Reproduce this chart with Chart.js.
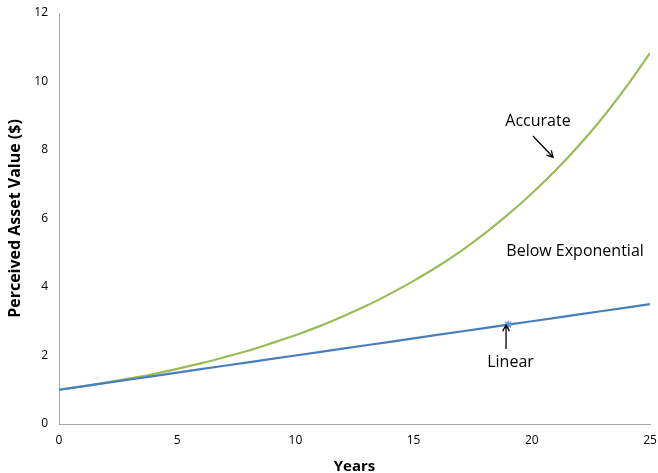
<!DOCTYPE html>
<html>
<head>
<meta charset="utf-8">
<script src="https://cdn.jsdelivr.net/npm/chart.js@4.4.1/dist/chart.umd.min.js"></script>
<style>
  html, body { margin: 0; padding: 0; background: #fff; }
  #wrap { width: 658px; height: 473px; }
</style>
</head>
<body>
<div id="wrap"><canvas id="grafico" width="658" height="473"></canvas></div>
<script>
// anos (eixo x)
const years = [0, 1, 2, 3, 4, 5, 6, 7, 8, 9, 10, 11, 12, 13, 14, 15, 16, 17, 18, 19, 20, 21, 22, 23, 24, 25];
// curva verde (accurate)
const accurate = [1.00, 1.10, 1.21, 1.33, 1.46, 1.61, 1.77, 1.95, 2.14, 2.36, 2.59, 2.85, 3.14, 3.45, 3.80, 4.18, 4.59, 5.05, 5.56, 6.12, 6.73, 7.40, 8.14, 8.95, 9.85, 10.83];
// reta azul (linear)
const linear = [1.0, 1.1, 1.2, 1.3, 1.4, 1.5, 1.6, 1.7, 1.8, 1.9, 2.0, 2.1, 2.2, 2.3, 2.4, 2.5, 2.6, 2.7, 2.8, 2.9, 3.0, 3.1, 3.2, 3.3, 3.4, 3.5];
const markedYear = 19;

const xTicks = [0, 5, 10, 15, 20, 25];
const yTicks = [0, 2, 4, 6, 8, 10, 12];

// textos e setas em coordenadas de dados
const labels = [
    { text: 'Accurate', x: 20.26, y: 8.82 },
    { text: 'Below Exponential', x: 21.83, y: 5.05 },
    { text: 'Linear', x: 19.1, y: 1.79 }
];
const arrows = [
    { x1: 20.05, y1: 8.41, x2: 20.9, y2: 7.79 },
    { x1: 18.91, y1: 2.19, x2: 18.91, y2: 2.89 }
];

const FONT = '"Open Sans", Lato, sans-serif';

const annotationsPlugin = {
    id: 'anotacoes',
    afterDatasetsDraw(chart) {
        const c = chart.ctx;
        const xs = chart.scales.x, ys = chart.scales.y;
        c.save();
        c.fillStyle = '#000';
        c.font = '16px ' + FONT;
        c.textAlign = 'center';
        c.textBaseline = 'middle';
        labels.forEach(l => c.fillText(l.text, xs.getPixelForValue(l.x), ys.getPixelForValue(l.y)));
        c.strokeStyle = '#000';
        arrows.forEach(a => {
            const x1 = xs.getPixelForValue(a.x1), y1 = ys.getPixelForValue(a.y1);
            const x2 = xs.getPixelForValue(a.x2), y2 = ys.getPixelForValue(a.y2);
            const ang = Math.atan2(y2 - y1, x2 - x1);
            c.beginPath();
            c.moveTo(x1, y1);
            c.lineTo(x2, y2);
            c.moveTo(x2 - 7 * Math.cos(ang - 0.5), y2 - 7 * Math.sin(ang - 0.5));
            c.lineTo(x2, y2);
            c.lineTo(x2 - 7 * Math.cos(ang + 0.5), y2 - 7 * Math.sin(ang + 0.5));
            c.lineWidth = 1.3;
            c.stroke();
        });
        c.restore();
    }
};

const ctx = document.getElementById('grafico').getContext('2d');
const grafico = new Chart(ctx, {
    type: 'line',
    data: {
        datasets: [
            {
                label: 'Linear',
                data: years.map((x, i) => ({ x: x, y: linear[i] })),
                borderColor: '#4a7ebb',
                borderWidth: 2.2,
                pointRadius: years.map(x => x === markedYear ? 4 : 0),
                pointStyle: 'star',
                pointBorderColor: '#5b9bd5',
                pointBorderWidth: 1.5,
                tension: 0
            },
            {
                label: 'Accurate',
                data: years.map((x, i) => ({ x: x, y: accurate[i] })),
                borderColor: '#9bbb59',
                borderWidth: 2.2,
                pointRadius: 0,
                cubicInterpolationMode: 'monotone'
            }
        ]
    },
    options: {
        responsive: false,
        animation: false,
        layout: { padding: { top: 13, right: 8, left: 0, bottom: 0 } },
        plugins: { legend: { display: false }, tooltip: { enabled: false } },
        scales: {
            x: {
                type: 'linear',
                min: 0, max: 25,
                afterBuildTicks: s => { s.ticks = xTicks.map(v => ({ value: v })); },
                afterFit: s => { s.height = 49; s.paddingLeft = 0; s.paddingRight = 0; },
                grid: { display: false, drawTicks: false },
                border: { color: '#a6a6a6', width: 1 },
                ticks: { color: '#000', font: { family: FONT, size: 12 }, padding: 9 },
                title: { display: true, text: 'Years', color: '#000', font: { family: FONT, size: 15, weight: 'bold' }, padding: { top: 7, bottom: -3 } }
            },
            y: {
                min: 0, max: 12,
                afterBuildTicks: s => { s.ticks = yTicks.map(v => ({ value: v })); },
                afterFit: s => { s.width = 59; s.paddingTop = 0; s.paddingBottom = 0; },
                grid: { display: false, drawTicks: false },
                border: { color: '#a6a6a6', width: 1 },
                ticks: { color: '#000', font: { family: FONT, size: 12 }, padding: 11 },
                title: { display: true, text: 'Perceived Asset Value ($)', color: '#000', font: { family: FONT, size: 16, weight: 'bold' }, padding: { top: 6, bottom: 0 } }
            }
        }
    },
    plugins: [annotationsPlugin]
});
</script>
</body>
</html>
